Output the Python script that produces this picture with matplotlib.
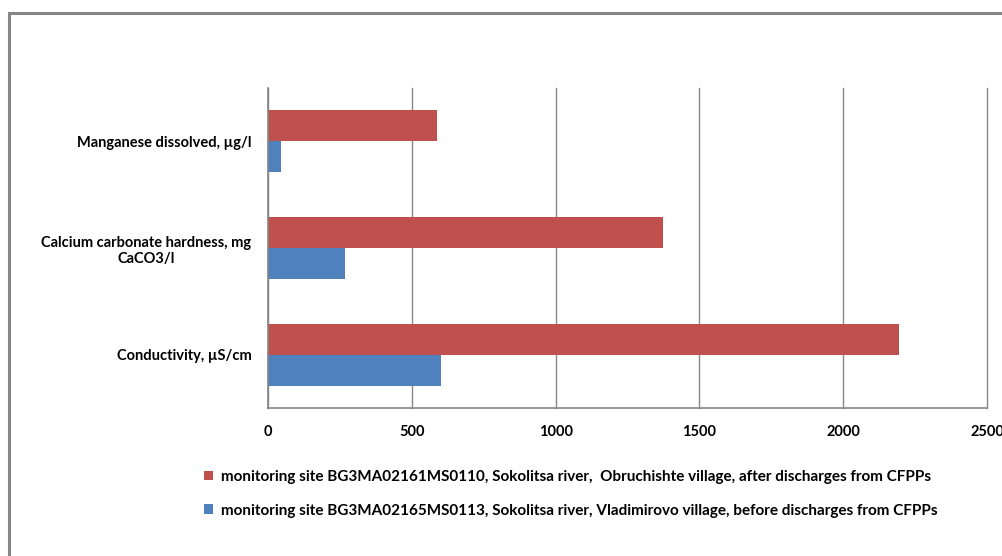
import matplotlib.pyplot as plt
from matplotlib.patches import Rectangle
import numpy as np

categories = ["Conductivity, \u00b5S/cm",
              "Calcium carbonate hardness, mg\nCaCO3/l",
              "Manganese dissolved, \u00b5g/l"]
after_values = [2194, 1373, 588]
before_values = [601, 268, 45]
after_label = "monitoring site BG3MA02161MS0110, Sokolitsa river,  Obruchishte village, after discharges from CFPPs"
before_label = "monitoring site BG3MA02165MS0113, Sokolitsa river, Vladimirovo village, before discharges from CFPPs"
x_ticks = [0, 500, 1000, 1500, 2000, 2500]

red = "#C0504D"
blue = "#4F81BD"
grid_col = "#868686"
fam = ['Lato', 'DejaVu Sans']

plt.rcParams['font.family'] = fam

fig = plt.figure(figsize=(10.02, 5.56), dpi=100)
W, H = 1002, 556

# outer chart frame
fig.patches.append(Rectangle((8.5 / W, -0.1), 1.2, (H - 13) / H + 0.1,
                             transform=fig.transFigure, fill=False,
                             edgecolor=grid_col, linewidth=2.2))

ax = fig.add_axes([268 / W, 1 - 408 / H, (987 - 268) / W, (408 - 88) / H])
y = np.arange(len(categories))
h = 0.29
ax.barh(y + h / 2, after_values, height=h, color=red, label=after_label)
ax.barh(y - h / 2, before_values, height=h, color=blue, label=before_label)

ax.set_xlim(0, 2500)
ax.set_ylim(-0.5, 2.5)
ax.set_xticks(x_ticks)
ax.set_xticklabels([str(t) for t in x_ticks], fontsize=10.5, fontweight='bold')
ax.set_yticks(y)
ax.set_yticklabels(categories, fontsize=10.5, fontweight='bold',
                   multialignment='center')
ax.tick_params(axis='y', length=0, pad=12)
ax.tick_params(axis='x', length=0, pad=12)
ax.xaxis.grid(True, color=grid_col, linewidth=1, clip_on=False)
ax.set_axisbelow(True)
for s in ['top', 'right']:
    ax.spines[s].set_visible(False)
ax.spines['left'].set_color(grid_col)
ax.spines['bottom'].set_color(grid_col)
ax.spines['left'].set_linewidth(1.2)
ax.spines['bottom'].set_linewidth(1.2)

handles, labels = ax.get_legend_handles_labels()
leg = fig.legend(handles, labels, loc='upper left',
                 bbox_to_anchor=(190 / W, 1 - 456 / H), frameon=False,
                 prop={'family': fam, 'weight': 'bold', 'size': 11},
                 handlelength=0.6, handleheight=0.6, handletextpad=0.5,
                 labelspacing=1.3)

fig.savefig("out.png", dpi=100)
